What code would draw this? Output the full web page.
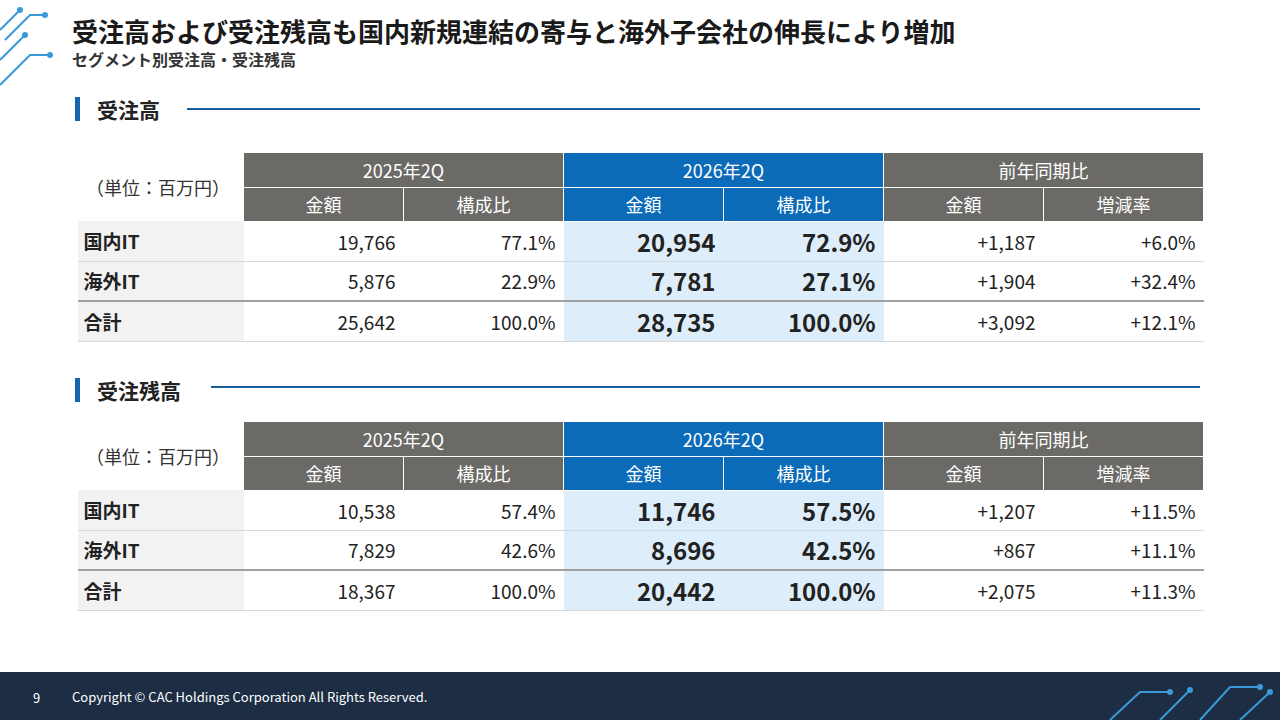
<!DOCTYPE html>
<html>
<head>
<meta charset="utf-8">
<script src="https://cdn.jsdelivr.net/npm/chart.js@4"></script>
<style>
  body { margin:0; width:1280px; height:720px; position:relative; overflow:hidden; background:#fff;
         font-family:"Noto Sans CJK JP","Noto Sans",sans-serif; color:#222; }
  .abs { position:absolute; }
  h1 { position:absolute; left:72px; top:12px; margin:0; font-size:26px; font-weight:700; color:#1a1a1a; }
  .sub { left:72px; top:47px; font-size:16px; font-weight:700; color:#333; }
  .sec { font-size:21px; font-weight:700; color:#222; }
  .bar { width:5px; height:24px; background:#1565b0; }
  .rule { height:2px; background:#1b5e9c; }
  table { position:absolute; left:77px; border-collapse:collapse; table-layout:fixed; font-size:19px; }
  td { padding:0 8px; box-sizing:border-box; }
  .h1 td, .h2 td { color:#fff; text-align:center; height:34px; font-size:18px; }
  .g { background:#6b6a66; }
  .b { background:#0b6bb9; }
  .h1 td { border-left:1px solid #fff; border-right:1px solid #fff; }
  .h2 td { border:1px solid #fff; }
  .unit { font-size:9px; color:#333; text-align:left !important; vertical-align:middle; }
  .d td { height:40px; text-align:right; border-bottom:1px solid #d8d8d8; }
  .d td.lab { text-align:left; background:#f2f2f2; font-weight:700; padding-left:6px; }
  .d td.hl { background:#ddeefa; font-weight:700; font-size:24px; }
  .tot td { border-top:2px solid #a0a0a0; }
  .foot { left:0; top:672px; width:1280px; height:48px; background:#1c2d44; color:#fff; font-size:13px; }
</style>
</head>
<body>
<h1>受注高および受注残高も国内新規連結の寄与と海外子会社の伸長により増加</h1>
<div class="abs sub">セグメント別受注高・受注残高</div>

<svg class="abs" style="left:0;top:0" width="60" height="90">
  <g stroke="#3a9ad9" stroke-width="2" fill="none">
    <path d="M0 30 L20 10 M5 40 L30 15 L45 15 M0 60 L25 35 M0 85 L30 55 L50 55"/>
  </g>
  <g fill="#3a9ad9"><circle cx="20" cy="10" r="3"/><circle cx="45" cy="15" r="3"/><circle cx="25" cy="35" r="3"/><circle cx="50" cy="55" r="3"/></g>
</svg>

<div class="abs bar" style="left:75px;top:97px"></div>
<div class="abs sec" style="left:97px;top:94px">受注高</div>
<div class="abs rule" style="left:187px;top:108px;width:1013px"></div>
<div id="t1"></div>

<div class="abs bar" style="left:75px;top:378px"></div>
<div class="abs sec" style="left:97px;top:375px">受注残高</div>
<div class="abs rule" style="left:211px;top:386px;width:989px"></div>
<div id="t2"></div>

<div class="abs foot">
  <span class="abs" style="left:33px;top:16px">9</span>
  <span class="abs" style="left:72px;top:15px">Copyright © CAC Holdings Corporation All Rights Reserved.</span>
  <svg class="abs" style="left:1100px;top:0" width="180" height="48">
    <g stroke="#3a9ad9" stroke-width="2" fill="none">
      <path d="M10 48 L40 20 L70 20 M60 48 L90 18 M100 48 L130 15 L160 15 M140 48 L170 20"/>
    </g>
    <g fill="#3a9ad9"><circle cx="70" cy="20" r="3"/><circle cx="90" cy="18" r="3"/><circle cx="160" cy="15" r="3"/><circle cx="170" cy="20" r="3"/></g>
  </svg>
</div>

<script>
const rowLabels = ['国内IT', '海外IT', '合計'];
const periodLabels = ['2025年2Q', '2026年2Q', '前年同期比'];
const subLabels = ['金額', '構成比', '金額', '構成比', '金額', '増減率'];

const orders2025 = ['19,766', '5,876', '25,642'];
const ordersShare2025 = ['77.1%', '22.9%', '100.0%'];
const orders2026 = ['20,954', '7,781', '28,735'];
const ordersShare2026 = ['72.9%', '27.1%', '100.0%'];
const ordersDiff = ['+1,187', '+1,904', '+3,092'];
const ordersRate = ['+6.0%', '+32.4%', '+12.1%'];

const backlog2025 = ['10,538', '7,829', '18,367'];
const backlogShare2025 = ['57.4%', '42.6%', '100.0%'];
const backlog2026 = ['11,746', '8,696', '20,442'];
const backlogShare2026 = ['57.5%', '42.5%', '100.0%'];
const backlogDiff = ['+1,207', '+867', '+2,075'];
const backlogRate = ['+11.5%', '+11.1%', '+11.3%'];

function buildTable(id, top, cols) {
  let h = `<table style="top:${top}px"><colgroup><col style="width:166px">` +
    '<col style="width:160px">'.repeat(6) + '</colgroup>';
  h += '<tr class="h1"><td rowspan="2" class="unit" style="color:#333">（単位：百万円）</td>';
  periodLabels.forEach((p, i) => h += `<td colspan="2" class="${i == 1 ? 'b' : 'g'}">${p}</td>`);
  h += '</tr><tr class="h2">';
  subLabels.forEach((s, i) => h += `<td class="${i == 2 || i == 3 ? 'b' : 'g'}">${s}</td>`);
  h += '</tr>';
  rowLabels.forEach((r, ri) => {
    h += `<tr class="d${ri == 2 ? ' tot' : ''}"><td class="lab">${r}</td>`;
    cols.forEach((c, ci) => h += `<td class="${ci == 2 || ci == 3 ? 'hl' : ''}">${c[ri]}</td>`);
    h += '</tr>';
  });
  document.getElementById(id).innerHTML = h + '</table>';
}

buildTable('t1', 153, [orders2025, ordersShare2025, orders2026, ordersShare2026, ordersDiff, ordersRate]);
buildTable('t2', 422, [backlog2025, backlogShare2025, backlog2026, backlogShare2026, backlogDiff, backlogRate]);
</script>
</body>
</html>
